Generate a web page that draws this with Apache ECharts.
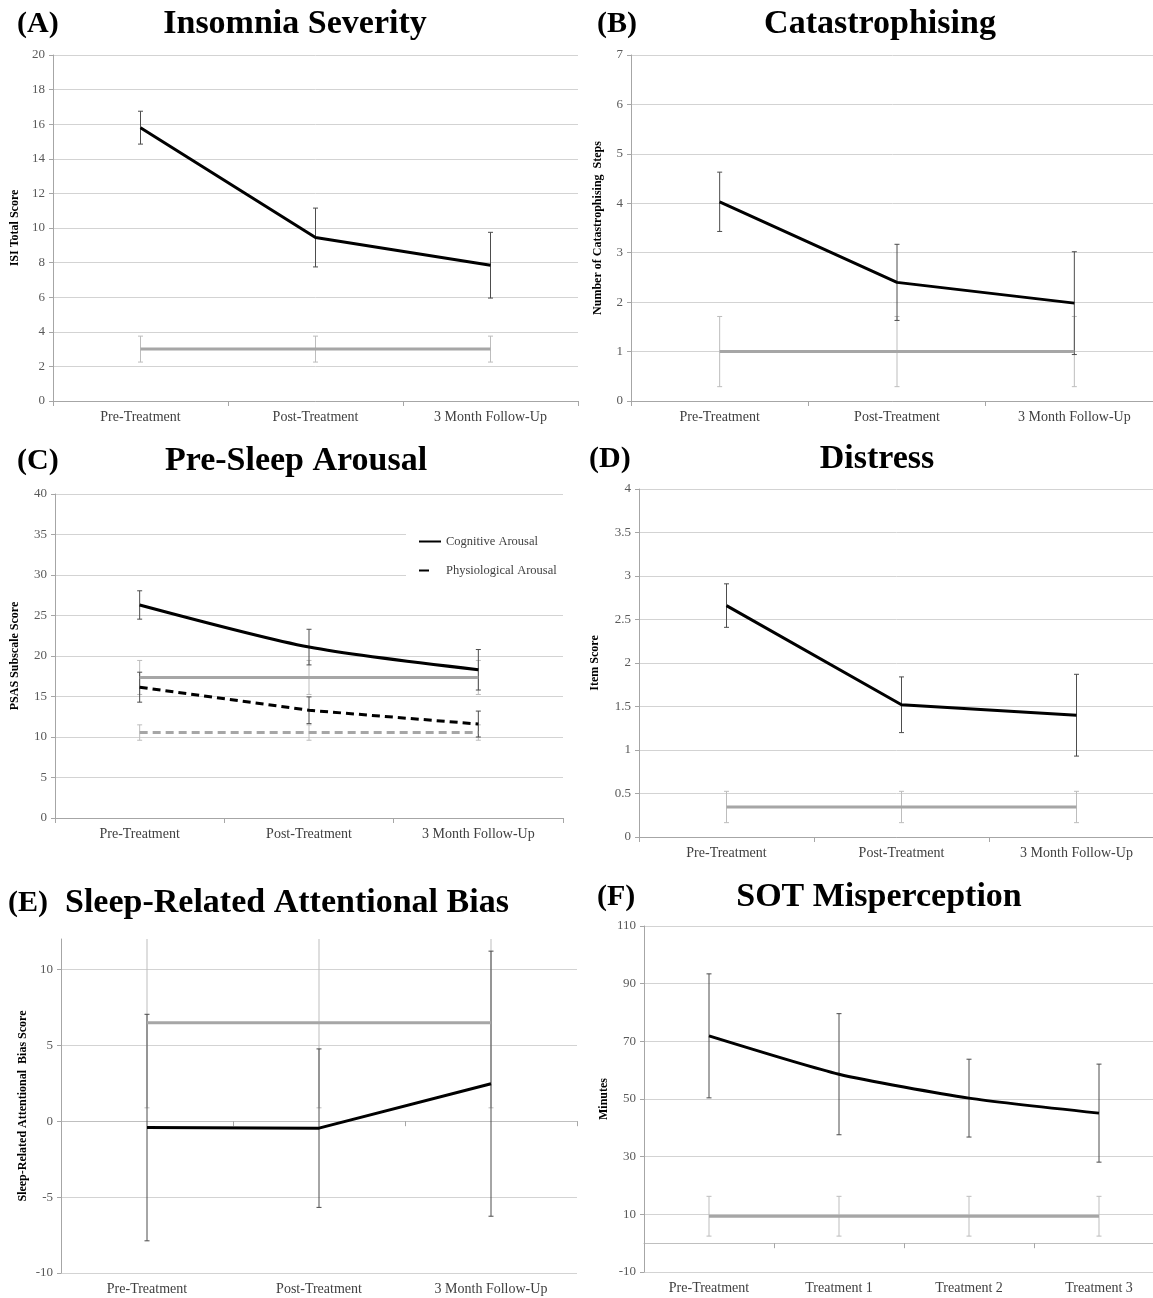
<!DOCTYPE html>
<html><head><meta charset="utf-8">
<script src="https://cdn.jsdelivr.net/npm/echarts@6/dist/echarts.min.js"></script>
<style>html,body{margin:0;padding:0;background:#fff;overflow:hidden}#c{width:1153px;height:1298px}</style>
</head><body><div id="c"></div>
<script>
// ---------- data ----------
const treatmentCats = ['Pre-Treatment', 'Post-Treatment', '3 Month Follow-Up'];
const sotCats = ['Pre-Treatment', 'Treatment 1', 'Treatment 2', 'Treatment 3'];

// (A) Insomnia Severity
const isiPatient = [15.8, 9.45, 7.85];
const isiPatientErr = [0.95, 1.7, 1.9];
const isiGood = [3.0, 3.0, 3.0];
const isiGoodErr = [0.75, 0.75, 0.75];

// (B) Catastrophising
const catPatient = [4.03, 2.4, 1.98];
const catPatientErr = [0.6, 0.77, 1.04];
const catGood = [1.0, 1.0, 1.0];
const catGoodErr = [0.71, 0.71, 0.71];

// (C) Pre-Sleep Arousal
const cogPatient = [26.3, 21.1, 18.3];
const cogPatientErr = [1.75, 2.2, 2.5];
const cogGood = [17.35, 17.35, 17.35];
const cogGoodErr = [2.1, 2.1, 2.1];
const physPatient = [16.15, 13.3, 11.6];
const physPatientErr = [1.85, 1.65, 1.6];
const physGood = [10.55, 10.55, 10.55];
const physGoodErr = [0.95, 0.95, 0.95];

// (D) Distress
const distPatient = [2.66, 1.52, 1.40];
const distPatientErr = [0.25, 0.32, 0.47];
const distGood = [0.345, 0.345, 0.345];
const distGoodErr = [0.18, 0.18, 0.18];

// (E) Sleep-Related Attentional Bias
const biasPatient = [-0.42, -0.46, 2.47];
const biasPatientErr = [7.46, 5.22, 8.73];
const biasGood = [6.48, 6.48, 6.48];
const biasGoodErr = [5.6, 5.6, 5.6];

// (F) SOT Misperception
const sotPatient = [71.9, 58.6, 50.3, 45.1];
const sotPatientErr = [21.5, 21.0, 13.5, 17.0];
const sotGood = [9.35, 9.35, 9.35, 9.35];
const sotGoodErr = [6.9, 6.9, 6.9, 6.9];

// ---------- styles ----------
const FONT = 'Liberation Serif';
const BLACK = '#000000', GRAY = '#a6a6a6', DARK_ERR = '#4d4d4d', GRAY_ERR = '#bdbdbd';
const AXIS = '#a6a6a6', GRIDC = '#d3d3d3';

const panels = [
  { grid: {left: 53, top: 55, width: 525, height: 346}, cats: treatmentCats,
    y: {min: 0, max: 20, interval: 2}, yName: 'ISI Total Score', nameGap: 32,
    series: [
      {name: 'A good', values: isiGood, errs: isiGoodErr, color: GRAY, errColor: GRAY_ERR},
      {name: 'A patient', values: isiPatient, errs: isiPatientErr, color: BLACK, errColor: DARK_ERR}
    ]},
  { grid: {left: 631, top: 55, width: 532, height: 346}, cats: treatmentCats,
    y: {min: 0, max: 7, interval: 1}, yName: 'Number of Catastrophising  Steps', nameGap: 27,
    series: [
      {name: 'B good', values: catGood, errs: catGoodErr, color: GRAY, errColor: GRAY_ERR},
      {name: 'B patient', values: catPatient, errs: catPatientErr, color: BLACK, errColor: DARK_ERR}
    ]},
  { grid: {left: 55, top: 494, width: 508, height: 324}, cats: treatmentCats,
    y: {min: 0, max: 40, interval: 5}, yName: 'PSAS Subscale Score', nameGap: 34,
    series: [
      {name: 'Cognitive Good', values: cogGood, errs: cogGoodErr, color: GRAY, errColor: GRAY_ERR},
      {name: 'Physiological Good', values: physGood, errs: physGoodErr, color: GRAY, errColor: GRAY_ERR, dash: true},
      {name: 'Cognitive Arousal', values: cogPatient, errs: cogPatientErr, color: BLACK, errColor: DARK_ERR, smooth: 0.25},
      {name: 'Physiological Arousal', values: physPatient, errs: physPatientErr, color: BLACK, errColor: DARK_ERR, dash: true}
    ]},
  { grid: {left: 639, top: 489, width: 525, height: 348}, cats: treatmentCats,
    y: {min: 0, max: 4, interval: 0.5}, yName: 'Item Score', nameGap: 38,
    series: [
      {name: 'D good', values: distGood, errs: distGoodErr, color: GRAY, errColor: GRAY_ERR},
      {name: 'D patient', values: distPatient, errs: distPatientErr, color: BLACK, errColor: DARK_ERR}
    ]},
  { grid: {left: 61, top: 939, width: 516, height: 334}, cats: treatmentCats,
    y: {min: -10, max: 12, interval: 5, hideMax: true}, yName: 'Sleep-Related Attentional  Bias Score', nameGap: 32,
    zeroAxis: true,
    series: [
      {name: 'E good', values: biasGood, errs: biasGoodErr, color: GRAY, errColor: GRAY_ERR},
      {name: 'E patient', values: biasPatient, errs: biasPatientErr, color: BLACK, errColor: DARK_ERR}
    ]},
  { grid: {left: 644, top: 926, width: 520, height: 346}, cats: sotCats,
    y: {min: -10, max: 110, interval: 20}, yName: 'Minutes', nameGap: 34,
    zeroAxis: true,
    series: [
      {name: 'F good', values: sotGood, errs: sotGoodErr, color: GRAY, errColor: GRAY_ERR},
      {name: 'F patient', values: sotPatient, errs: sotPatientErr, color: BLACK, errColor: DARK_ERR, smooth: 0.2}
    ]}
];

const titles = [
  {text: '(A)', x: 17, y: 24, align: 'left', size: 30},
  {text: 'Insomnia Severity', x: 295, y: 24, align: 'center', size: 34},
  {text: '(B)', x: 597, y: 24, align: 'left', size: 30},
  {text: 'Catastrophising', x: 880, y: 24, align: 'center', size: 34},
  {text: '(C)', x: 17, y: 461, align: 'left', size: 30},
  {text: 'Pre-Sleep Arousal', x: 296, y: 461, align: 'center', size: 34},
  {text: '(D)', x: 589, y: 459, align: 'left', size: 30},
  {text: 'Distress', x: 877, y: 459, align: 'center', size: 34},
  {text: '(E)', x: 8, y: 903, align: 'left', size: 30},
  {text: 'Sleep-Related Attentional Bias', x: 65, y: 903, align: 'left', size: 34},
  {text: '(F)', x: 597, y: 897, align: 'left', size: 30},
  {text: 'SOT Misperception', x: 879, y: 897, align: 'center', size: 34}
];

function makeErr(color) {
  return function (params, api) {
    const x = api.value(0), lo = api.value(1), hi = api.value(2);
    const p1 = api.coord([x, lo]), p2 = api.coord([x, hi]);
    const w = 2.5;
    const st = {stroke: color, lineWidth: 1};
    return {type: 'group', children: [
      {type: 'line', shape: {x1: p1[0], y1: p1[1], x2: p2[0], y2: p2[1]}, style: st},
      {type: 'line', shape: {x1: p1[0] - w, y1: p1[1], x2: p1[0] + w, y2: p1[1]}, style: st},
      {type: 'line', shape: {x1: p2[0] - w, y1: p2[1], x2: p2[0] + w, y2: p2[1]}, style: st}
    ]};
  };
}

const grid = [], xAxis = [], yAxis = [], series = [];
panels.forEach((p, gi) => {
  grid.push(Object.assign({containLabel: false, outerBoundsMode: 'none'}, p.grid));
  const xi = xAxis.length;
  xAxis.push({
    type: 'category', gridIndex: gi, data: p.cats, boundaryGap: true, position: 'bottom',
    axisLine: {show: !p.zeroAxis, onZero: false, lineStyle: {color: AXIS, width: 1}},
    axisTick: {show: !p.zeroAxis, length: 5, lineStyle: {color: AXIS}},
    axisLabel: {fontFamily: FONT, fontSize: 14, color: '#404040', margin: 9, interval: 0},
    splitLine: {show: false}
  });
  if (p.zeroAxis) {
    xAxis.push({
      type: 'category', gridIndex: gi, data: p.cats, boundaryGap: true, position: 'top',
      axisLine: {show: true, onZero: true, lineStyle: {color: '#bfbfbf', width: 1}},
      axisTick: {show: true, inside: true, length: 5, lineStyle: {color: AXIS}},
      axisLabel: {show: false}, splitLine: {show: false}
    });
  }
  yAxis.push({
    type: 'value', gridIndex: gi, min: p.y.min, max: p.y.max, interval: p.y.interval,
    name: p.yName, nameLocation: 'middle', nameRotate: 90, nameGap: p.nameGap,
    nameTextStyle: {fontFamily: FONT, fontWeight: 'bold', fontSize: 12, color: '#000'},
    axisLine: {show: true, onZero: false, lineStyle: {color: AXIS, width: 1}},
    axisTick: {show: true, length: 4, lineStyle: {color: AXIS}},
    axisLabel: {fontFamily: FONT, fontSize: 13, color: '#595959', margin: 8, showMaxLabel: !p.y.hideMax},
    splitLine: {show: true, showMaxLine: !p.y.hideMax, lineStyle: {color: GRIDC, width: 1}}
  });
  p.series.forEach(s => {
    series.push({
      type: 'custom', name: s.name + ' error', xAxisIndex: xi, yAxisIndex: gi, clip: true, silent: true,
      renderItem: makeErr(s.errColor),
      data: s.values.map((v, i) => [i, v - s.errs[i], v + s.errs[i]]),
      encode: {x: 0, y: [1, 2]}, z: 2
    });
    series.push({
      type: 'line', name: s.name, xAxisIndex: xi, yAxisIndex: gi, data: s.values,
      symbol: 'none', smooth: s.smooth || false, silent: true, animation: false,
      lineStyle: {color: s.color, width: 3, type: s.dash ? [8, 5] : 'solid', cap: 'butt'},
      itemStyle: {color: s.color}, z: 3
    });
  });
});

const option = {
  animation: false,
  backgroundColor: '#ffffff',
  grid, xAxis, yAxis, series,
  legend: {
    left: 406, top: 527, orient: 'vertical', itemWidth: 22, itemHeight: 14, itemGap: 16,
    padding: [8, 20, 8, 12], backgroundColor: '#ffffff', selectedMode: false,
    itemStyle: {opacity: 0},
    data: [
      {name: 'Cognitive Arousal', itemStyle: {opacity: 0}},
      {name: 'Physiological Arousal', itemStyle: {opacity: 0}, lineStyle: {type: [10, 40]}}
    ],
    textStyle: {fontFamily: FONT, fontSize: 12.5, color: '#404040'}
  },
  graphic: titles.map(t => ({
    type: 'text', x: t.x, y: t.y, silent: true,
    style: {text: t.text, fontFamily: FONT, fontWeight: 'bold', fontSize: t.size, fill: '#000',
      align: t.align, verticalAlign: 'middle', textAlign: t.align, textVerticalAlign: 'middle'}
  }))
};

const chart = echarts.init(document.getElementById('c'), null, {renderer: 'canvas'});
chart.setOption(option);
</script>
</body></html>
